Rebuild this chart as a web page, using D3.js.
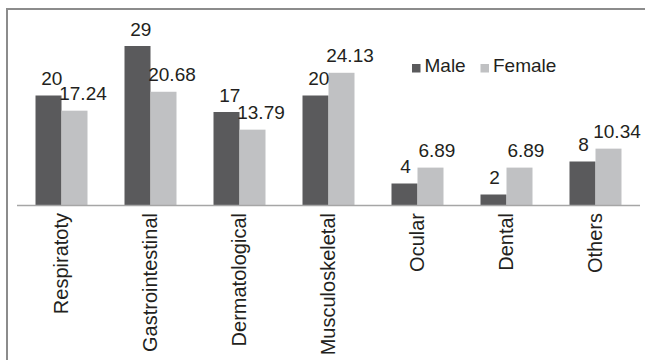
<!DOCTYPE html>
<html>
<head>
<meta charset="utf-8">
<script src="https://cdn.jsdelivr.net/npm/d3@7/dist/d3.min.js"></script>
<style>
  html, body { margin: 0; padding: 0; background: #fff; }
  svg { display: block; }
  text { font-family: "Liberation Sans", Arial, sans-serif; fill: #231f20; }
</style>
</head>
<body>
<svg id="chart" width="645" height="360"></svg>
<script>
// Disease categories and percentage values by sex
const categories = ["Respiratoty", "Gastrointestinal", "Dermatological", "Musculoskeletal", "Ocular", "Dental", "Others"];
const seriesNames = ["Male", "Female"];
const maleValues = [20, 29, 17, 20, 4, 2, 8];
const femaleValues = [17.24, 20.68, 13.79, 24.13, 6.89, 6.89, 10.34];
const maleLabels = ["20", "29", "17", "20", "4", "2", "8"];
const femaleLabels = ["17.24", "20.68", "13.79", "24.13", "6.89", "6.89", "10.34"];

const colors = { Male: "#5a5a5c", Female: "#c0c1c3" };

const rows = categories.map((c, i) => ({
  category: c,
  values: [
    { key: "Male", value: maleValues[i], label: maleLabels[i] },
    { key: "Female", value: femaleValues[i], label: femaleLabels[i] }
  ]
}));

const svg = d3.select("#chart");
const W = 645, H = 360;

// outer frame
svg.append("rect")
  .attr("x", 7).attr("y", 9)
  .attr("width", W + 10).attr("height", H + 10)
  .attr("fill", "none")
  .attr("stroke", "#8c8c8c")
  .attr("stroke-width", 2);

const plot = { left: 17, right: 640, baseline: 205.5 };

const x0 = d3.scaleBand()
  .domain(categories)
  .range([plot.left, plot.right])
  .paddingInner(0.4157)
  .paddingOuter(0.2079);

const x1 = d3.scaleBand()
  .domain(seriesNames)
  .range([0, x0.bandwidth()]);

const y = d3.scaleLinear()
  .domain([0, 29])
  .range([plot.baseline, plot.baseline - 159.5]);

const groups = svg.append("g")
  .selectAll("g")
  .data(rows)
  .join("g")
  .attr("transform", d => `translate(${x0(d.category)},0)`);

groups.selectAll("rect")
  .data(d => d.values)
  .join("rect")
  .attr("x", d => x1(d.key))
  .attr("y", d => y(d.value))
  .attr("width", x1.bandwidth())
  .attr("height", d => y(0) - y(d.value))
  .attr("fill", d => colors[d.key]);

// value labels, nudged right as in the original layout
groups.selectAll("text.value")
  .data(d => d.values)
  .join("text")
  .attr("class", "value")
  .attr("text-anchor", "middle")
  .attr("font-size", 19)
  .attr("y", d => y(d.value) - 10.5)
  .text(d => d.label)
  .each(function (d) {
    const len = this.getComputedTextLength();
    d3.select(this).attr("x", x1(d.key) + x1.bandwidth() / 2 + 0.2 * len - 1);
  });

// category axis
const xAxis = d3.axisBottom(
  d3.scalePoint().domain(categories)
    .range([x0(categories[0]) + x0.bandwidth() / 2, x0(categories[categories.length - 1]) + x0.bandwidth() / 2])
).tickSize(0).tickPadding(0);

const axisG = svg.append("g")
  .attr("transform", `translate(0,${plot.baseline})`)
  .call(xAxis);
axisG.select(".domain").remove();
axisG.selectAll("text")
  .attr("font-size", 20)
  .attr("font-family", "Liberation Sans, Arial, sans-serif")
  .attr("fill", "#231f20")
  .attr("text-anchor", "end")
  .attr("transform", "rotate(-90)")
  .attr("x", -7.5)
  .attr("y", 0)
  .attr("dy", "0.32em");

svg.append("line")
  .attr("x1", plot.left).attr("x2", plot.right)
  .attr("y1", plot.baseline).attr("y2", plot.baseline)
  .attr("stroke", "#a6a6a6")
  .attr("stroke-width", 1.5);

// legend
const legendItems = [
  { key: "Male", x: 412 },
  { key: "Female", x: 480.5 }
];
const legend = svg.append("g").selectAll("g")
  .data(legendItems)
  .join("g")
  .attr("transform", d => `translate(${d.x},64)`);
legend.append("rect")
  .attr("width", 8.5).attr("height", 8.5)
  .attr("fill", d => colors[d.key]);
legend.append("text")
  .attr("x", 12.5).attr("y", 7.8)
  .attr("font-size", 19)
  .text(d => d.key);
</script>
</body>
</html>
